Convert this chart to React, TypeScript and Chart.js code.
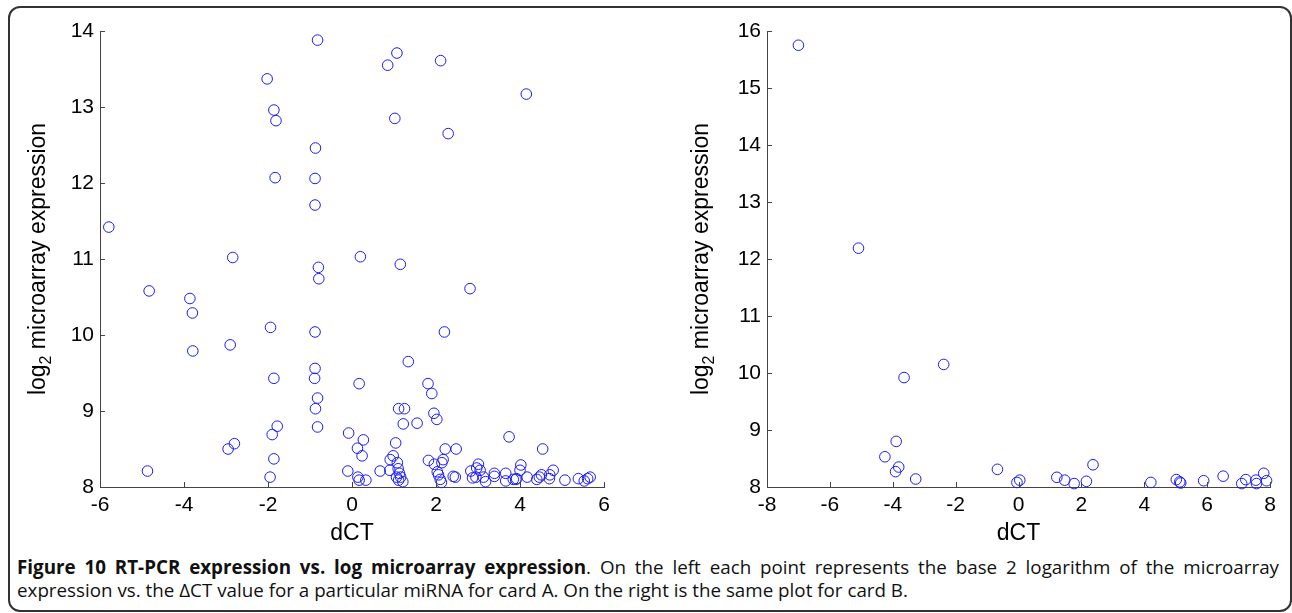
import React, { useEffect, useRef } from "react";
import { Chart, registerables } from "chart.js";

Chart.register(...registerables);

// Card A: dCT vs log2 microarray expression
const cardAX = [
  -0.82, -2.02, -1.86, -1.81, -0.87, -1.83, -0.88, -0.88, -5.79,
  1.07, 0.85, 2.11, 4.15, 1.02, 2.29,
  -2.84, -0.8, -0.79, -4.83, -3.86, -3.8, -1.94, -0.88, -2.9, -3.79, -0.88, -1.86, -0.89, -0.82, -0.87,
  -1.78, -0.82, -1.9, -0.08, -2.8, -2.95, -1.86, -4.87, -0.1, -1.95,
  0.2, 1.15, 2.81, 2.2, 1.34, 0.17, 1.81, 1.9, 1.11, 1.25, 1.95, 2.02, 1.22, 1.55, 0.27, 0.13, 0.24,
  1.04, 0.98, 0.91, 1.08, 2.22, 2.48, 3.74, 4.54, 1.82, 2.17, 2.14, 1.96,
  0.14, 0.17, 0.33, 0.67, 0.9, 1.1, 1.13, 1.06, 1.16, 1.11, 1.21,
  2.03, 2.06, 2.1, 2.13, 2.41, 2.46,
  2.83, 2.87, 2.95, 2.97, 3.01, 3.05, 3.13, 3.18, 3.39, 3.39, 3.66, 3.66,
  3.84, 3.9, 3.92, 4.0, 4.02, 4.17, 4.4, 4.46, 4.51, 4.7, 4.71, 4.79,
  5.07, 5.39, 5.53, 5.61, 5.67,
];
const cardAY = [
  13.88, 13.37, 12.96, 12.82, 12.46, 12.07, 12.06, 11.71, 11.42,
  13.71, 13.55, 13.61, 13.17, 12.85, 12.65,
  11.02, 10.89, 10.74, 10.58, 10.48, 10.29, 10.1, 10.04, 9.87, 9.79, 9.56, 9.43, 9.43, 9.17, 9.03,
  8.8, 8.79, 8.69, 8.71, 8.57, 8.5, 8.37, 8.21, 8.21, 8.13,
  11.03, 10.93, 10.61, 10.04, 9.65, 9.36, 9.36, 9.23, 9.03, 9.03, 8.97, 8.89, 8.83, 8.84, 8.62, 8.51, 8.41,
  8.58, 8.41, 8.36, 8.32, 8.5, 8.5, 8.66, 8.5, 8.35, 8.36, 8.32, 8.3,
  8.13, 8.09, 8.09, 8.21, 8.22, 8.24, 8.18, 8.13, 8.13, 8.09, 8.07,
  8.2, 8.16, 8.1, 8.06, 8.14, 8.13,
  8.21, 8.12, 8.13, 8.25, 8.3, 8.22, 8.13, 8.07, 8.18, 8.14, 8.18, 8.08,
  8.1, 8.1, 8.11, 8.22, 8.29, 8.13, 8.1, 8.13, 8.16, 8.11, 8.16, 8.22,
  8.09, 8.11, 8.08, 8.11, 8.13,
];

// Card B
const cardBX = [
  -7.0, -5.09, -2.38, -3.64, -3.89, -4.25, -3.81, -3.91, -3.27, -0.67, -0.05, 0.04,
  1.22, 1.47, 1.77, 2.16, 2.37, 4.21, 5.02, 5.13, 5.16, 5.89, 6.51, 7.1, 7.23, 7.55, 7.57, 7.8, 7.89,
];
const cardBY = [
  15.75, 12.19, 10.15, 9.92, 8.8, 8.53, 8.35, 8.27, 8.14, 8.31, 8.08, 8.12,
  8.17, 8.12, 8.06, 8.1, 8.39, 8.08, 8.13, 8.09, 8.07, 8.11, 8.19, 8.06, 8.13, 8.12, 8.06, 8.24, 8.11,
];

const cardARangeX = [-6, 6];
const cardARangeY = [8, 14];
const cardBRangeX = [-8, 8];
const cardBRangeY = [8, 16];

const xTitle = "dCT";
const yTitleMain = "log";
const yTitleSub = "2";
const yTitleRest = " microarray expression";

const FONT = '"Liberation Sans", Arial, Helvetica, sans-serif';

function decorPlugin(yTitleX: number) {
  return {
    id: "decor",
    afterDraw(chart: any) {
      const ctx = chart.ctx;
      const { left, right, bottom } = chart.chartArea;
      const xs = chart.scales.x;
      const ys = chart.scales.y;
      ctx.save();
      ctx.strokeStyle = "#444";
      ctx.lineWidth = 1;
      ctx.beginPath();
      xs.ticks.forEach((t: any) => {
        const p = Math.round(xs.getPixelForValue(t.value)) + 0.5;
        ctx.moveTo(p, bottom);
        ctx.lineTo(p, bottom - 5);
      });
      ys.ticks.forEach((t: any) => {
        const p = Math.round(ys.getPixelForValue(t.value)) + 0.5;
        ctx.moveTo(left, p);
        ctx.lineTo(left + 5, p);
      });
      ctx.stroke();

      ctx.fillStyle = "#000";
      ctx.font = `23px ${FONT}`;
      ctx.textAlign = "center";
      ctx.textBaseline = "alphabetic";
      ctx.fillText(xTitle, (left + right) / 2, 540);

      const main = `23px ${FONT}`;
      const sub = `16px ${FONT}`;
      ctx.font = main;
      const w1 = ctx.measureText(yTitleMain).width;
      const w3 = ctx.measureText(yTitleRest).width;
      ctx.font = sub;
      const w2 = ctx.measureText(yTitleSub).width;
      const total = w1 + w2 + w3;
      ctx.translate(yTitleX, 259);
      ctx.rotate(-Math.PI / 2);
      ctx.textAlign = "left";
      const x0 = -total / 2;
      ctx.font = main;
      ctx.fillText(yTitleMain, x0, 0);
      ctx.font = sub;
      ctx.fillText(yTitleSub, x0 + w1, 6);
      ctx.font = main;
      ctx.fillText(yTitleRest, x0 + w1 + w2, 0);
      ctx.restore();
    },
  };
}

function makeChart(
  canvas: HTMLCanvasElement,
  xs: number[],
  ys: number[],
  rx: number[],
  ry: number[],
  yAxisWidth: number,
  padRight: number,
  yTitleX: number
) {
  const data = xs.map((x, i) => ({ x, y: ys[i] }));
  return new Chart(canvas, {
    type: "scatter",
    data: {
      datasets: [
        {
          data,
          borderColor: "#1a1aff",
          backgroundColor: "rgba(0,0,0,0)",
          borderWidth: 1,
          pointRadius: 5.3,
          pointHoverRadius: 5.3,
          clip: false as any,
        },
      ],
    },
    options: {
      animation: false,
      responsive: false,
      maintainAspectRatio: false,
      layout: { padding: { top: 31, right: padRight, left: 0, bottom: 0 } },
      plugins: { legend: { display: false }, tooltip: { enabled: false } },
      scales: {
        x: {
          type: "linear",
          min: rx[0],
          max: rx[1],
          afterFit: (s: any) => {
            s.height = 63;
          },
          grid: { display: false, drawTicks: false },
          border: { display: true, color: "#444", width: 1 },
          ticks: {
            stepSize: 2,
            padding: 6,
            color: "#000",
            font: { size: 21, family: FONT },
          },
        },
        y: {
          type: "linear",
          min: ry[0],
          max: ry[1],
          afterFit: (s: any) => {
            s.width = yAxisWidth;
          },
          grid: { display: false, drawTicks: false },
          border: { display: true, color: "#444", width: 1 },
          ticks: {
            stepSize: 1,
            padding: 6,
            color: "#000",
            font: { size: 21, family: FONT },
          },
        },
      },
    },
    plugins: [decorPlugin(yTitleX)],
  } as any);
}

export default function App() {
  const leftRef = useRef<HTMLCanvasElement>(null);
  const rightRef = useRef<HTMLCanvasElement>(null);

  useEffect(() => {
    const a = makeChart(leftRef.current!, cardAX, cardAY, cardARangeX, cardARangeY, 100, 46, 45);
    const b = makeChart(rightRef.current!, cardBX, cardBY, cardBRangeX, cardBRangeY, 117, 22, 58);
    return () => {
      a.destroy();
      b.destroy();
    };
  }, []);

  const captionFont = '"Open Sans", "Noto Sans", sans-serif';

  return (
    <div>
      <div
        style={{
          position: "absolute",
          left: 8,
          top: 6,
          width: 1284,
          height: 606,
          boxSizing: "border-box",
          border: "2px solid #333",
          borderRadius: 12,
        }}
      />
      <canvas
        ref={leftRef}
        width={650}
        height={550}
        style={{ position: "absolute", left: 0, top: 0, width: 650, height: 550 }}
      />
      <canvas
        ref={rightRef}
        width={642}
        height={550}
        style={{ position: "absolute", left: 650, top: 0, width: 642, height: 550 }}
      />
      <div
        style={{
          position: "absolute",
          left: 17,
          top: 555,
          width: 1262,
          fontFamily: captionFont,
          fontSize: 18.8,
          lineHeight: "24px",
          color: "#111",
          textAlign: "justify",
          textAlignLast: "justify" as any,
          whiteSpace: "nowrap",
        }}
      >
        <span style={{ fontWeight: 700 }}>Figure 10 RT-PCR expression vs. log microarray expression</span>. On the left each point represents the base 2 logarithm of the microarray
      </div>
      <div
        style={{
          position: "absolute",
          left: 17,
          top: 578,
          fontFamily: captionFont,
          fontSize: 18.8,
          lineHeight: "24px",
          color: "#111",
          whiteSpace: "nowrap",
        }}
      >
        expression vs. the ΔCT value for a particular miRNA for card A. On the right is the same plot for card B.
      </div>
    </div>
  );
}
